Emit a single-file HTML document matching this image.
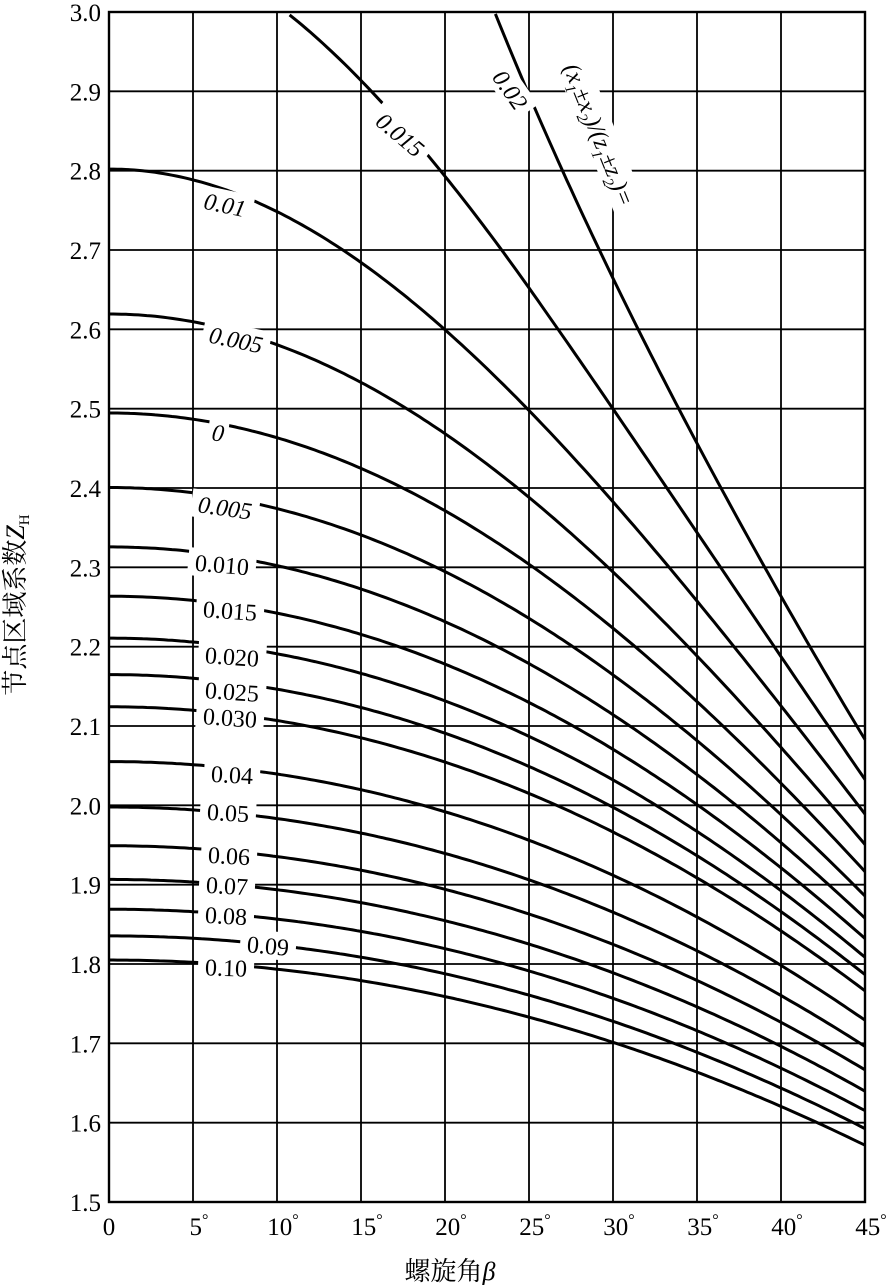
<!DOCTYPE html>
<html><head><meta charset="utf-8"><style>
html,body{margin:0;padding:0;background:#fff;}
svg{display:block;font-family:"Liberation Serif","Noto Serif CJK SC",serif;}
</style></head><body>
<svg id="s" width="886" height="1285" viewBox="0 0 886 1285" xmlns="http://www.w3.org/2000/svg">
<g id="grid" stroke="#000" stroke-width="1.8" fill="none"></g>
<g id="curves" stroke="#000" stroke-width="3" fill="none"></g>
<g id="labels" font-size="24"></g>
<g id="ticks" font-size="25" fill="#000"></g>
<text x="450" y="1280" font-size="26" text-anchor="middle">螺旋角<tspan font-style="italic">β</tspan></text>
<text transform="translate(24,605) rotate(-90)" font-size="26" text-anchor="middle">节点区域系数<tspan font-style="italic">Z</tspan><tspan font-size="15" dy="5">H</tspan></text>
</svg>
<script>
var NS="http://www.w3.org/2000/svg";
var X0=109,X1=865,Y0=12,Y1=1202;
function px(b){return X0+(X1-X0)*b/45;}
function py(v){return Y0+(3.0-v)*(Y1-Y0)/1.5;}
function el(t,a,p,txt){var e=document.createElementNS(NS,t);for(var k in a)e.setAttribute(k,a[k]);if(txt!=null)e.textContent=txt;p.appendChild(e);return e;}
var G=document.getElementById('grid'),C=document.getElementById('curves'),L=document.getElementById('labels'),T=document.getElementById('ticks');
for(var i=0;i<=9;i++){var x=px(i*5);el('line',{x1:x,y1:Y0,x2:x,y2:Y1},G);}
for(var j=0;j<=15;j++){var v=1.5+j*0.1,y=py(v);el('line',{x1:X0,y1:y,x2:X1,y2:y},G);
 el('text',{x:101,y:y+9,'text-anchor':'end'},T,v.toFixed(1));}
el('rect',{x:X0,y:Y0,width:X1-X0,height:Y1-Y0,'stroke-width':2.4},G);
for(var i=0;i<=9;i++){var t=el('text',{x:px(i*5)+(i?6:0),y:1235,'text-anchor':'middle'},T,String(i*5));if(i){el('tspan',{dy:-10,'font-size':16},t,'°');}}
function inv(a){return Math.tan(a)-a;}
function ainv(v){var a=Math.cbrt(3*Math.abs(v))||0.3;if(a<0.05)a=0.3;for(var k=0;k<60;k++){var f=inv(a)-v;a-=f/(Math.tan(a)*Math.tan(a));}return a;}
var an=20*Math.PI/180;
function Z(bd,x){var b=bd*Math.PI/180;var at=Math.atan(Math.tan(an)/Math.cos(b));var bb=Math.atan(Math.tan(b)*Math.cos(at));
 var awt=ainv(inv(at)+2*Math.tan(an)*x);return Math.sqrt(2*Math.cos(bb)/(Math.cos(at)*Math.cos(at)*Math.tan(awt)));}
var xs=[-0.02,-0.015,-0.01,-0.005,0,0.005,0.01,0.015,0.02,0.025,0.03,0.04,0.05,0.06,0.07,0.08,0.09,0.1];
xs.forEach(function(x){var d="",started=false;for(var b=0;b<=45.001;b+=0.25){var z=Z(b,x);
 if(x==-0.015){var f=Math.max(0,1-b/25);z-=0.04*f*f*(3-2*f);}
 if(x==-0.02){var f=Math.max(0,1-b/40);z-=0.035*f*f*(3-2*f);}
 if(z>3.0){continue;}
 d+=(started?"L":"M")+px(b).toFixed(1)+","+py(z).toFixed(1);started=true;}el('path',{d:d},C);});
var labs=[["0.01",225,205,12,1],["0.005",236,340,12,1],["0",218,433,8,1],["0.005",225,508,8,1],["0.010",222,565,5,0],["0.015",230,611,4,0],
["0.020",232,657,4,0],["0.025",232,692,4,0],["0.030",230,718,4,0],["0.04",232,775,3,0],["0.05",228,813,3,0],["0.06",229,856,3,0],
["0.07",227,886,3,0],["0.08",226,916,3,0],["0.09",268,946,5,0],["0.10",226,968,2,0],["0.015",400,135,40,1],["0.02",510,90,55,1]];
labs.forEach(function(l){var g=el('g',{transform:'translate('+l[1]+','+l[2]+') rotate('+l[3]+')'},L);
 var w=l[0].length*12+8;el('rect',{x:-w/2,y:-15,width:w,height:28,fill:'#fff'},g);
 el('text',{x:0,y:8,'text-anchor':'middle','font-style':l[4]?'italic':'normal'},g,l[0]);});
var g=el('g',{transform:'translate(598,135) rotate(68)'},L);
el('rect',{x:-112,y:-18,width:224,height:32,fill:'#fff'},g);
var t=el('text',{x:0,y:7,'text-anchor':'middle','font-size':24,'font-style':'italic'},g);
t.innerHTML='(x<tspan font-size="15" dy="6">1</tspan><tspan dy="-6">±x</tspan><tspan font-size="15" dy="6">2</tspan><tspan dy="-6">)/(z</tspan><tspan font-size="15" dy="6">1</tspan><tspan dy="-6">±z</tspan><tspan font-size="15" dy="6">2</tspan><tspan dy="-6">)=</tspan>';
</script>
</body></html>
